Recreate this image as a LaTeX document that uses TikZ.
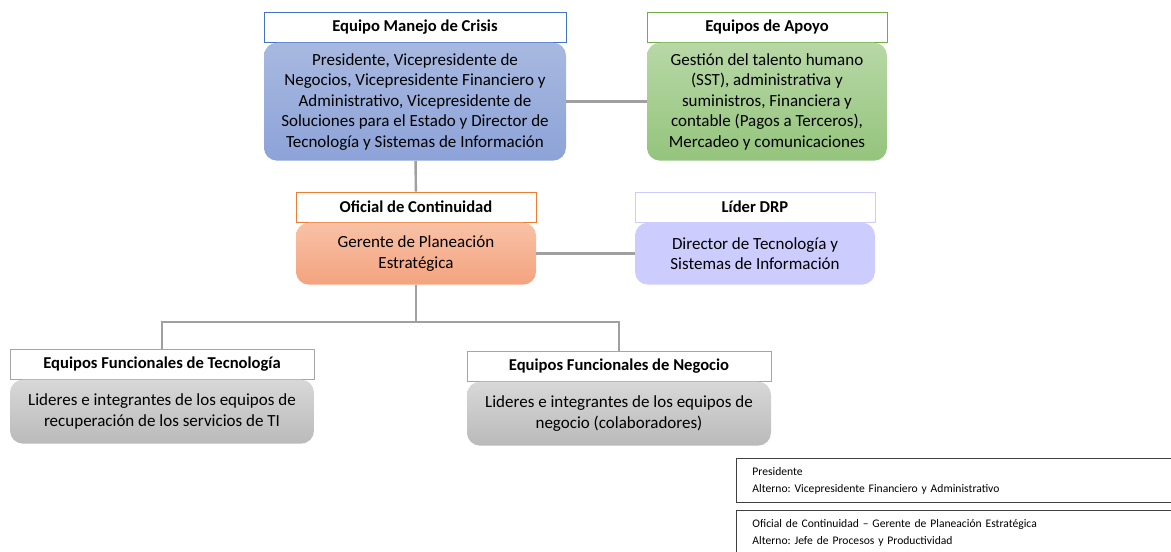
\documentclass[tikz,border=0pt]{standalone}
\usepackage{fontspec}
\setmainfont{Carlito}
\usepackage{tikz}
\usetikzlibrary{positioning}
\definecolor{bluebd}{RGB}{68,114,196}
\definecolor{bluetop}{RGB}{168,185,224}
\definecolor{bluebot}{RGB}{141,163,216}
\definecolor{greenbd}{RGB}{112,173,71}
\definecolor{greentop}{RGB}{184,216,166}
\definecolor{greenbot}{RGB}{148,196,124}
\definecolor{orangebd}{RGB}{237,125,49}
\definecolor{orangetop}{RGB}{248,194,166}
\definecolor{orangebot}{RGB}{244,163,126}
\definecolor{lilabd}{RGB}{204,204,255}
\definecolor{lila}{RGB}{204,204,255}
\definecolor{graybd}{RGB}{165,165,165}
\definecolor{graytop}{RGB}{216,216,216}
\definecolor{graybot}{RGB}{186,186,186}
\definecolor{linegray}{RGB}{160,160,160}
\frenchspacing

\tikzset{
  titlebox/.style={draw=#1, fill=white, line width=0.9pt, minimum height=30pt,
    inner sep=0pt, font=\bfseries\fontsize{16.6}{18}\selectfont},
  bodybox/.style={rounded corners=13pt, inner sep=0pt, align=center,
    font=\fontsize{17}{20.5}\selectfont},
  linkline/.style={draw=linegray, line width=2.4pt},
  legbox/.style={draw=black!75, line width=0.9pt, minimum width=460pt, minimum height=44pt,
    inner sep=0pt, text width=428pt, align=left, font=\fontsize{11.6}{17}\selectfont}
}

\begin{document}
\begin{tikzpicture}[x=1pt,y=-1pt]
    \useasboundingbox (0,0) rectangle (1171,552);

    \node(crisisT) [titlebox=bluebd, minimum width=302pt] at (415,27) {Equipo Manejo de Crisis};
    \node(crisis) [bodybox, below=0pt of crisisT, minimum width=302pt, minimum height=118pt,
      top color=bluetop, bottom color=bluebot]
      {Presidente, Vicepresidente de\\Negocios, Vicepresidente Financiero y\\Administrativo, Vicepresidente de\\Soluciones para el Estado y Director de\\Tecnología y Sistemas de Información};

    \node(apoyoT) [titlebox=greenbd, minimum width=240pt] at (767,27) {Equipos de Apoyo};
    \node(apoyo) [bodybox, below=0pt of apoyoT, minimum width=240pt, minimum height=118pt,
      top color=greentop, bottom color=greenbot]
      {Gestión del talento humano\\(SST), administrativa y\\suministros, Financiera y\\contable (Pagos a Terceros),\\Mercadeo y comunicaciones};

    \node(oficialT) [titlebox=orangebd, minimum width=240pt] at (416,207) {Oficial de Continuidad};
    \node(oficial) [bodybox, below=0pt of oficialT, minimum width=240pt, minimum height=62pt,
      top color=orangetop, bottom color=orangebot]
      {Gerente de Planeación\\Estratégica};

    \node(drpT) [titlebox=lilabd, minimum width=240pt] at (755,207) {Líder DRP};
    \node(drp) [bodybox, below=0pt of drpT, minimum width=240pt, minimum height=62pt,
      fill=lila]
      {Director de Tecnología y\\Sistemas de Información};

    \node(tecT) [titlebox=graybd, minimum width=304pt] at (162,364) {Equipos Funcionales de Tecnología};
    \node(tec) [bodybox, below=0pt of tecT, minimum width=304pt, minimum height=64pt,
      top color=graytop, bottom color=graybot]
      {Lideres e integrantes de los equipos de\\recuperación de los servicios de TI};

    \node(negT) [titlebox=graybd, minimum width=304pt] at (619,366) {Equipos Funcionales de Negocio};
    \node(neg) [bodybox, below=0pt of negT, minimum width=304pt, minimum height=64pt,
      top color=graytop, bottom color=graybot]
      {Lideres e integrantes de los equipos de\\negocio (colaboradores)};

    \node(leg1) [legbox, anchor=north west] at (736,458)
      {Presidente\\Alterno: Vicepresidente Financiero y Administrativo};
    \node(leg2) [legbox, anchor=north west] at (736,510)
      {Oficial de Continuidad -- Gerente de Planeación Estratégica\\Alterno: Jefe de Procesos y Productividad};

    \coordinate(split) at (416,322);

    \draw[linkline] (crisis) -- (apoyo);
    \draw[linkline] (crisis) -- (oficialT);
    \draw[linkline] (oficial) -- (drp);
    \draw[linkline] (oficial) -- (split);
    \draw[linkline] (split) -| (tecT);
    \draw[linkline] (split) -| (negT);
\end{tikzpicture}
\end{document}
